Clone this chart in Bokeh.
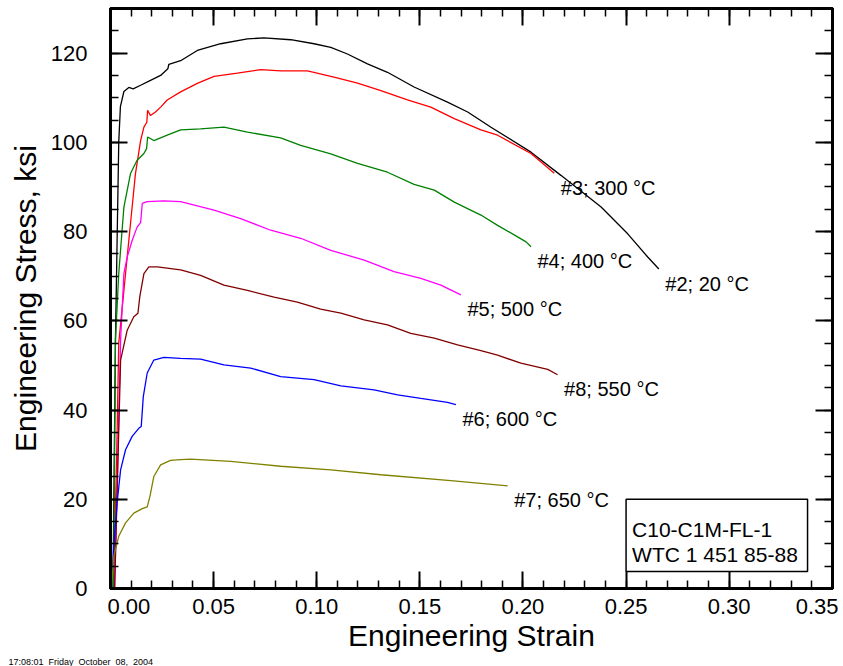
from bokeh.plotting import figure
from bokeh.models import (LinearAxis, SingleIntervalTicker, Range1d, BoxAnnotation,
                          Label, ColumnDataSource, CustomJSTickFormatter, Title)
from bokeh.core.properties import value
from bokeh.embed import file_html
from bokeh.resources import INLINE

# ---------------- data ----------------
strain_2 = [0.0012, 0.0024, 0.0040, 0.0048, 0.0065, 0.0089, 0.0110, 0.0146, 0.0194, 0.0243,
            0.0278, 0.0283, 0.0340, 0.0421, 0.0534, 0.0664, 0.0744, 0.0874, 0.0987, 0.1068,
            0.1149, 0.1246, 0.1343, 0.1472, 0.1634, 0.1732, 0.1845, 0.2039, 0.2184, 0.2379,
            0.2508, 0.2605, 0.2659]
stress_2 = [0.0, 55.7, 100.0, 108.0, 111.4, 112.3, 112.0, 112.8, 113.9, 115.0,
            116.5, 117.5, 118.3, 120.6, 122.1, 123.2, 123.4, 123.0, 122.1, 121.3,
            119.8, 117.6, 115.7, 112.4, 109.0, 106.8, 103.4, 97.8, 92.6, 85.5,
            79.5, 74.3, 71.6]

strain_3 = [0.0015, 0.0030, 0.0040, 0.0073, 0.0097, 0.0121, 0.0146, 0.0162, 0.0176, 0.0180,
            0.0194, 0.0218, 0.0243, 0.0275, 0.0340, 0.0421, 0.0502, 0.0615, 0.0728, 0.0825,
            0.0955, 0.1084, 0.1198, 0.1311, 0.1440, 0.1553, 0.1667, 0.1796, 0.1877, 0.2039,
            0.2152]
stress_3 = [0.0, 30.0, 55.0, 70.6, 81.8, 93.0, 100.4, 103.4, 104.5, 107.2,
            106.0, 106.8, 107.9, 109.5, 111.3, 113.2, 114.8, 115.5, 116.3, 116.0,
            116.0, 114.6, 113.3, 111.6, 109.5, 107.9, 105.3, 102.8, 101.6, 97.5,
            93.1]

strain_4 = [0.0015, 0.0024, 0.0040, 0.0065, 0.0097, 0.0129, 0.0162, 0.0175, 0.0180, 0.0210,
            0.0275, 0.0340, 0.0437, 0.0550, 0.0664, 0.0825, 0.0922, 0.1068, 0.1198, 0.1343,
            0.1472, 0.1570, 0.1667, 0.1796, 0.1877, 0.1974, 0.2015, 0.2039]
stress_4 = [0.0, 55.7, 70.6, 85.5, 93.0, 96.0, 97.5, 98.6, 101.2, 100.4,
            101.6, 102.8, 103.0, 103.4, 102.3, 101.0, 99.3, 97.4, 95.3, 93.3,
            90.6, 89.3, 86.6, 83.7, 81.4, 78.8, 77.7, 76.6]

strain_5 = [0.0020, 0.0049, 0.0065, 0.0081, 0.0105, 0.0129, 0.0146, 0.0154, 0.0178, 0.0260,
            0.0340, 0.0502, 0.0631, 0.0777, 0.0922, 0.1068, 0.1230, 0.1375, 0.1505, 0.1602,
            0.1699]
stress_5 = [0.0, 55.7, 70.6, 74.3, 78.0, 81.0, 82.0, 86.3, 86.7, 86.9,
            86.7, 84.8, 82.9, 80.3, 78.5, 75.8, 73.6, 71.0, 69.5, 68.0,
            65.8]

strain_8 = [0.0020, 0.0049, 0.0081, 0.0113, 0.0133, 0.0142, 0.0162, 0.0186, 0.0227, 0.0340,
            0.0437, 0.0550, 0.0664, 0.0793, 0.0906, 0.1019, 0.1117, 0.1230, 0.1343, 0.1456,
            0.1570, 0.1683, 0.1796, 0.1877, 0.1990, 0.2120, 0.2168]
stress_8 = [0.0, 51.2, 57.9, 60.9, 61.7, 65.4, 70.6, 72.1, 72.1, 71.4,
            70.2, 68.0, 66.8, 65.3, 64.2, 62.6, 61.7, 60.2, 59.1, 57.2,
            56.1, 54.6, 53.3, 52.3, 50.5, 49.1, 47.9]

strain_6 = [0.0005, 0.0016, 0.0032, 0.0049, 0.0073, 0.0105, 0.0137, 0.0149, 0.0159, 0.0178,
            0.0210, 0.0259, 0.0340, 0.0437, 0.0550, 0.0680, 0.0825, 0.0987, 0.1117, 0.1278,
            0.1392, 0.1505, 0.1634, 0.1675]
stress_6 = [0.0, 9.5, 19.2, 26.6, 31.1, 34.1, 35.9, 36.3, 43.0, 48.3,
            51.2, 51.8, 51.6, 51.4, 50.1, 49.4, 47.5, 46.8, 45.4, 44.5,
            43.4, 42.6, 41.7, 41.2]

strain_7 = [0.0005, 0.0016, 0.0040, 0.0073, 0.0113, 0.0154, 0.0178, 0.0191, 0.0210, 0.0243,
            0.0291, 0.0340, 0.0388, 0.0583, 0.0825, 0.1068, 0.1311, 0.1650, 0.1926]
stress_7 = [0.0, 7.2, 11.7, 14.7, 16.9, 17.9, 18.3, 20.6, 25.1, 27.7,
            28.7, 28.9, 29.0, 28.5, 27.4, 26.6, 25.5, 24.2, 23.0]

curve_labels = ["#2; 20 °C", "#3; 300 °C", "#4; 400 °C", "#5; 500 °C",
                "#8; 550 °C", "#6; 600 °C", "#7; 650 °C"]
curve_colors = ["#000000", "#FF0000", "#008000", "#FF00FF", "#800000", "#0000FF", "#808000"]
all_strain = [strain_2, strain_3, strain_4, strain_5, strain_8, strain_6, strain_7]
all_stress = [stress_2, stress_3, stress_4, stress_5, stress_8, stress_6, stress_7]

x_ticks_interval = 0.05
y_ticks_interval = 20
box_lines = ["C10-C1M-FL-1", "WTC 1 451 85-88"]
timestamp = "17:08:01\u00a0\u00a0Friday\u00a0\u00a0October\u00a0\u00a008,\u00a0\u00a02004"

FONT = "Liberation Sans"
X_END = 0.3501

# ---------------- figure ----------------
p = figure(width=838, height=666, output_backend="svg", toolbar_location=None,
           x_range=Range1d(0, X_END), y_range=Range1d(0, 130),
           min_border_left=110, min_border_right=6, min_border_top=8, min_border_bottom=77,
           x_axis_label="Engineering Strain", y_axis_label="Engineering Stress, ksi")
p.grid.visible = False
p.outline_line_color = "black"
p.outline_line_width = 3
p.outline_line_alpha = 1.0
p.background_fill_color = "white"
p.border_fill_color = "white"

for xs, ys, c in zip(all_strain, all_stress, curve_colors):
    p.line(xs, ys, line_color=c, line_width=1.3)

# labels at curve ends
src = ColumnDataSource(dict(x=[s[-1] for s in all_strain], y=[s[-1] for s in all_stress],
                            t=curve_labels))
p.text(x="x", y="y", text="t", source=src, x_offset=6.5, y_offset=14.5,
       text_font=value(FONT), text_font_size="20px", text_color="black",
       text_align="left", text_baseline="alphabetic")

xt = SingleIntervalTicker(interval=x_ticks_interval, num_minor_ticks=5)
yt = SingleIntervalTicker(interval=y_ticks_interval, num_minor_ticks=4)

def style(ax, show_labels):
    ax.axis_line_width = 3
    ax.axis_line_color = "black"
    ax.axis_line_alpha = 1.0
    ax.major_tick_in = 17
    ax.major_tick_out = 0
    ax.minor_tick_in = 8
    ax.minor_tick_out = 0
    ax.major_tick_line_width = 2
    ax.minor_tick_line_width = 1.5
    ax.major_tick_line_color = "black"
    ax.minor_tick_line_color = "black"
    ax.major_label_text_color = "black"
    ax.axis_label_text_color = "black"
    if not show_labels:
        ax.formatter = CustomJSTickFormatter(code="return '';")
        ax.major_label_text_font_size = "1px"
        ax.major_label_standoff = 0

xa = p.xaxis[0]
xa.ticker = xt
# the first label is nudged inward (as in the reference) with figure spaces
xa.formatter = CustomJSTickFormatter(code="""
    const s = tick.toFixed(2);
    if (Math.abs(tick) < 1e-9) return '\\u2007\\u2007\\u2007' + s;
    return s;
""")
xa.major_label_text_font = FONT
xa.major_label_text_font_size = "22px"
xa.major_label_standoff = 5
xa.axis_label_text_font = FONT
xa.axis_label_text_font_size = "30px"
xa.axis_label_text_font_style = "normal"
xa.axis_label_standoff = -3
style(xa, True)

ya = p.yaxis[0]
ya.ticker = yt
ya.major_label_text_font = FONT
ya.major_label_text_font_size = "22px"
ya.major_label_standoff = 23
ya.axis_label_text_font = FONT
ya.axis_label_text_font_size = "30px"
ya.axis_label_text_font_style = "normal"
ya.axis_label_standoff = 6
style(ya, True)

top = LinearAxis(ticker=xt)
style(top, False)
p.add_layout(top, "above")
right = LinearAxis(ticker=yt)
style(right, False)
p.add_layout(right, "right")

# specimen box
p.add_layout(BoxAnnotation(left=0.25, right=0.338, bottom=3.8, top=20,
                           fill_color="white", fill_alpha=1.0,
                           line_color="black", line_alpha=1.0, line_width=1.5))
p.add_layout(Label(x=0.25, y=13.2, text=box_lines[0], x_offset=6,
                   text_font=FONT, text_font_size="21px", text_color="black",
                   text_baseline="alphabetic"))
p.add_layout(Label(x=0.25, y=7.6, text=box_lines[1], x_offset=6,
                   text_font=FONT, text_font_size="21px", text_color="black",
                   text_baseline="alphabetic"))

# timestamp at the bottom-left corner, outside the axes
p.add_layout(Title(text=timestamp, align="left", offset=-102, standoff=0,
                   text_font=FONT, text_font_size="9px", text_font_style="normal",
                   text_color="black"), "below")

open("out.html", "w").write(file_html(p, INLINE))
